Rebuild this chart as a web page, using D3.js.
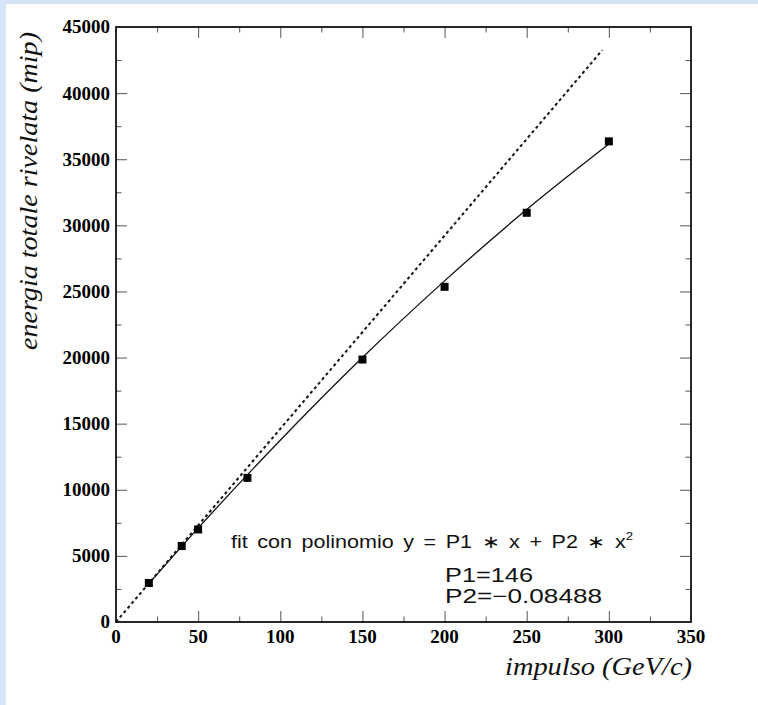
<!DOCTYPE html>
<html>
<head>
<meta charset="utf-8">
<script src="https://cdn.jsdelivr.net/npm/d3@7"></script>
<style>
  body { margin: 0; background: #d5e5f6; }
  svg { display: block; }
</style>
</head>
<body>
<div id="chart"></div>
<script>
// measured points: impulso (GeV/c) vs energia totale rivelata (mip)
var momentum = [20, 40, 50, 80, 150, 200, 250, 300];
var energy = [2950, 5750, 7000, 10900, 19850, 25350, 30950, 36350];

// fitted polynomial curve
var fitX = [20, 50, 100, 150, 200, 250, 300];
var fitY = [2900, 7100, 13750, 20000, 25800, 31200, 36150];

// dashed straight line (linear term only)
var lineX = [0, 296];
var lineY = [0, 43250];

var xTicks = [0, 50, 100, 150, 200, 250, 300, 350];
var yTicks = [0, 5000, 10000, 15000, 20000, 25000, 30000, 35000, 40000, 45000];

var fitLabel = "fit con polinomio y = P1 \u2217 x + P2 \u2217 x";
var paramLabels = ["P1=146", "P2=\u22120.08488"];

var svgWidth = 758;
var svgHeight = 705;

var margin = { top: 27, right: 67, bottom: 83, left: 116 };
var width = svgWidth - margin.left - margin.right;
var height = svgHeight - margin.top - margin.bottom;

var svg = d3.select("#chart")
  .append("svg")
  .attr("width", svgWidth)
  .attr("height", svgHeight);

// light blue page with white sheet
svg.append("rect")
  .attr("width", svgWidth).attr("height", svgHeight)
  .attr("fill", "#d5e5f6");
svg.append("rect")
  .attr("x", 6).attr("y", 4)
  .attr("width", svgWidth - 6).attr("height", svgHeight - 4)
  .attr("fill", "#ffffff");

var chartGroup = svg.append("g")
  .attr("transform", `translate(${margin.left}, ${margin.top})`);

var xScale = d3.scaleLinear().domain([0, 350]).range([0, width]);
var yScale = d3.scaleLinear().domain([0, 45000]).range([height, 0]);

var xMinor = d3.range(0, 351, 25).filter(d => d % 50 !== 0);
var yMinor = d3.range(0, 45001, 2500).filter(d => d % 5000 !== 0);

function tickStyle(g) {
  g.select(".domain").remove();
  g.selectAll(".tick line").attr("stroke", "#555").attr("stroke-width", 1);
}

// inward ticks on all four sides
chartGroup.append("g")
  .attr("transform", `translate(0, ${height})`)
  .call(d3.axisTop(xScale).tickValues(xTicks.slice(1, -1)).tickSize(11).tickFormat(""))
  .call(tickStyle);
chartGroup.append("g")
  .attr("transform", `translate(0, ${height})`)
  .call(d3.axisTop(xScale).tickValues(xMinor).tickSize(5.5).tickFormat(""))
  .call(tickStyle);
chartGroup.append("g")
  .call(d3.axisBottom(xScale).tickValues(xTicks.slice(1, -1)).tickSize(11).tickFormat(""))
  .call(tickStyle);
chartGroup.append("g")
  .call(d3.axisBottom(xScale).tickValues(xMinor).tickSize(5.5).tickFormat(""))
  .call(tickStyle);

chartGroup.append("g")
  .call(d3.axisRight(yScale).tickValues(yTicks.slice(1, -1)).tickSize(11).tickFormat(""))
  .call(tickStyle);
chartGroup.append("g")
  .call(d3.axisRight(yScale).tickValues(yMinor).tickSize(5.5).tickFormat(""))
  .call(tickStyle);
chartGroup.append("g")
  .attr("transform", `translate(${width}, 0)`)
  .call(d3.axisLeft(yScale).tickValues(yTicks.slice(1, -1)).tickSize(11).tickFormat(""))
  .call(tickStyle);
chartGroup.append("g")
  .attr("transform", `translate(${width}, 0)`)
  .call(d3.axisLeft(yScale).tickValues(yMinor).tickSize(5.5).tickFormat(""))
  .call(tickStyle);

// frame
chartGroup.append("rect")
  .attr("width", width).attr("height", height)
  .attr("fill", "none")
  .attr("stroke", "#111")
  .attr("stroke-width", 1.8);

// tick labels
chartGroup.selectAll(".xlab")
  .data(xTicks)
  .enter()
  .append("text")
  .attr("x", d => xScale(d))
  .attr("y", height + 21)
  .attr("text-anchor", "middle")
  .attr("font-family", "Liberation Serif, Times New Roman, serif")
  .attr("font-weight", "bold")
  .attr("font-size", "19px")
  .text(d => d);

chartGroup.selectAll(".ylab")
  .data(yTicks)
  .enter()
  .append("text")
  .attr("x", -6)
  .attr("y", d => yScale(d))
  .attr("dy", "0.34em")
  .attr("text-anchor", "end")
  .attr("font-family", "Liberation Serif, Times New Roman, serif")
  .attr("font-weight", "bold")
  .attr("font-size", "19px")
  .text(d => d);

// dashed linear line
var linePts = lineX.map((x, i) => [x, lineY[i]]);
chartGroup.append("path")
  .datum(linePts)
  .attr("d", d3.line().x(d => xScale(d[0])).y(d => yScale(d[1])))
  .attr("fill", "none")
  .attr("stroke", "#111")
  .attr("stroke-width", 2)
  .attr("stroke-dasharray", "3,3");

// fit curve
var fitPts = fitX.map((x, i) => [x, fitY[i]]);
chartGroup.append("path")
  .datum(fitPts)
  .attr("d", d3.line().curve(d3.curveMonotoneX).x(d => xScale(d[0])).y(d => yScale(d[1])))
  .attr("fill", "none")
  .attr("stroke", "#111")
  .attr("stroke-width", 1.3);

// markers
var pts = momentum.map((x, i) => [x, energy[i]]);
chartGroup.selectAll(".pt")
  .data(pts)
  .enter()
  .append("rect")
  .attr("x", d => xScale(d[0]) - 4)
  .attr("y", d => yScale(d[1]) - 4)
  .attr("width", 8)
  .attr("height", 8)
  .attr("fill", "#000");

// fit annotation
var fitText = svg.append("text")
  .attr("x", 231)
  .attr("y", 548)
  .attr("font-family", "Liberation Sans, Arial, sans-serif")
  .attr("font-size", "18px")
  .attr("word-spacing", "3px")
  .attr("fill", "#111");
fitText.append("tspan").text(fitLabel);
fitText.append("tspan")
  .attr("font-size", "11px")
  .attr("dy", "-8")
  .text("2");
fitText.attr("textLength", 402).attr("lengthAdjust", "spacingAndGlyphs");

svg.selectAll(".param")
  .data(paramLabels)
  .enter()
  .append("text")
  .attr("x", 445)
  .attr("y", (d, i) => 582 + i * 21)
  .attr("font-family", "Liberation Sans, Arial, sans-serif")
  .attr("font-size", "20px")
  .attr("fill", "#111")
  .attr("textLength", (d, i) => i === 0 ? 88 : 157)
  .attr("lengthAdjust", "spacingAndGlyphs")
  .text(d => d);

// axis titles
svg.append("text")
  .attr("x", 505)
  .attr("y", 675)
  .attr("font-family", "Liberation Serif, Times New Roman, serif")
  .attr("font-style", "italic")
  .attr("font-size", "25px")
  .attr("fill", "#111")
  .attr("textLength", 187)
  .attr("lengthAdjust", "spacingAndGlyphs")
  .text("impulso (GeV/c)");

svg.append("text")
  .attr("transform", "translate(37, 350) rotate(-90)")
  .attr("font-family", "Liberation Serif, Times New Roman, serif")
  .attr("font-style", "italic")
  .attr("font-size", "25px")
  .attr("fill", "#111")
  .attr("textLength", 318)
  .attr("lengthAdjust", "spacingAndGlyphs")
  .text("energia totale rivelata (mip)");
</script>
</body>
</html>
